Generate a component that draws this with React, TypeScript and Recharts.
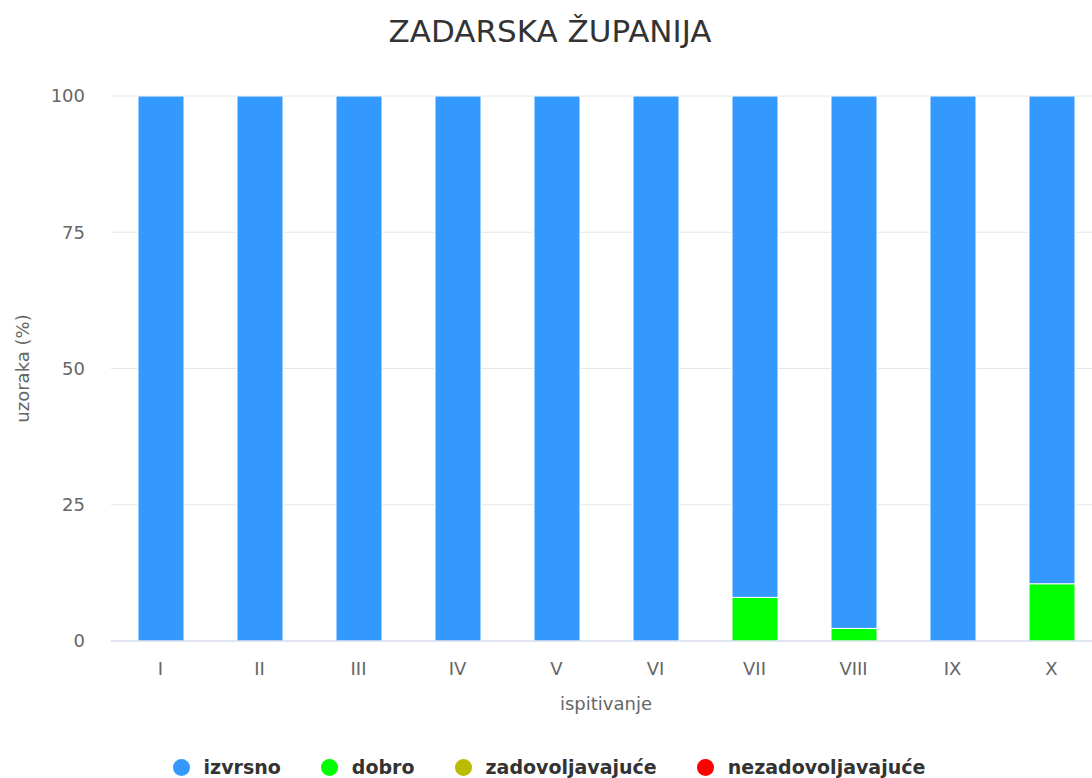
import { BarChart, Bar, XAxis, YAxis, CartesianGrid, Legend, Label } from "recharts";

const categories = ["I", "II", "III", "IV", "V", "VI", "VII", "VIII", "IX", "X"];
const izvrsno = [100, 100, 100, 100, 100, 100, 92, 97.7, 100, 89.5];
const dobro = [0, 0, 0, 0, 0, 0, 8, 2.3, 0, 10.5];
const zadovoljavajuce = [0, 0, 0, 0, 0, 0, 0, 0, 0, 0];
const nezadovoljavajuce = [0, 0, 0, 0, 0, 0, 0, 0, 0, 0];
const yTicks = [0, 25, 50, 75, 100];

// legend order (top of stack first, like the original)
const series = [
  { key: "izvrsno", name: "izvrsno", color: "#3399ff", values: izvrsno },
  { key: "dobro", name: "dobro", color: "#00ff00", values: dobro },
  { key: "zadovoljavajuce", name: "zadovoljavajuće", color: "#bbbb00", values: zadovoljavajuce },
  { key: "nezadovoljavajuce", name: "nezadovoljavajuće", color: "#ff0000", values: nezadovoljavajuce },
];

const data = categories.map((cat, i) => {
  const row: Record<string, string | number> = { cat };
  series.forEach((s) => {
    row[s.key] = s.values[i];
  });
  return row;
});

const FONT = "'DejaVu Sans', Verdana, sans-serif";

function LegendContent() {
  return (
    <div
      style={{
        height: 30,
        display: "flex",
        justifyContent: "center",
        alignItems: "center",
        fontFamily: FONT,
        fontWeight: "bold",
        fontSize: 19,
        color: "#333",
        paddingLeft: 6,
      }}
    >
      {series.map((s, i) => (
        <div
          key={s.key}
          style={{ display: "flex", alignItems: "center", marginLeft: i === 0 ? 0 : 40 }}
        >
          <span
            style={{
              width: 17,
              height: 17,
              borderRadius: "50%",
              background: s.color,
              display: "inline-block",
              marginRight: 14,
            }}
          />
          <span>{s.name}</span>
        </div>
      ))}
    </div>
  );
}

export default function App() {
  return (
    <div
      style={{
        position: "fixed",
        left: 0,
        top: 0,
        width: 1092,
        height: 778,
        overflow: "hidden",
        background: "#fff",
      }}
    >
      <div
        style={{
          position: "absolute",
          left: 0,
          top: 13,
          width: 1100,
          textAlign: "center",
          fontFamily: FONT,
          fontSize: 31,
          color: "#333",
          zIndex: 2,
        }}
      >
        ZADARSKA ŽUPANIJA
      </div>
      <BarChart
        width={1110}
        height={778}
        data={data}
        margin={{ top: 96, right: 9, bottom: 27, left: 0 }}
      >
        <CartesianGrid vertical={false} stroke="#e6e6e6" />
        <XAxis
          dataKey="cat"
          height={80}
          tickLine={false}
          tickSize={0}
          tickMargin={21}
          axisLine={{ stroke: "#ccd6eb" }}
          tick={{ fill: "#666", fontSize: 18, fontFamily: FONT }}
        >
          <Label
            value="ispitivanje"
            position="insideBottom"
            offset={11}
            style={{ fill: "#666", fontSize: 18, fontFamily: FONT }}
          />
        </XAxis>
        <YAxis
          width={111}
          domain={[0, 100]}
          ticks={yTicks}
          tickLine={false}
          axisLine={false}
          tickSize={0}
          tickMargin={26}
          tick={{ fill: "#666", fontSize: 18, fontFamily: FONT }}
        >
          <Label
            content={(props: any) => {
              const vb = props.viewBox || { x: 0, y: 96, height: 545 };
              const cx = vb.x + 22;
              const cy = vb.y + vb.height / 2;
              return (
                <text
                  x={cx}
                  y={cy}
                  transform={`rotate(-90 ${cx} ${cy})`}
                  textAnchor="middle"
                  dominantBaseline="central"
                  style={{ fill: "#666", fontSize: 18, fontFamily: FONT }}
                >
                  uzoraka (%)
                </text>
              );
            }}
          />
        </YAxis>
        <Legend
          verticalAlign="bottom"
          content={() => <LegendContent />}
          wrapperStyle={{ top: 752, bottom: "auto", left: 0, width: 1092 }}
        />
        {[...series].reverse().map((s) => (
          <Bar
            key={s.key}
            dataKey={s.key}
            name={s.name}
            stackId="a"
            fill={s.color}
            stroke={s.key === "izvrsno" || s.key === "dobro" ? "#ffffff" : "none"}
            strokeWidth={1}
            barSize={46}
            isAnimationActive={false}
          />
        ))}
      </BarChart>
    </div>
  );
}
